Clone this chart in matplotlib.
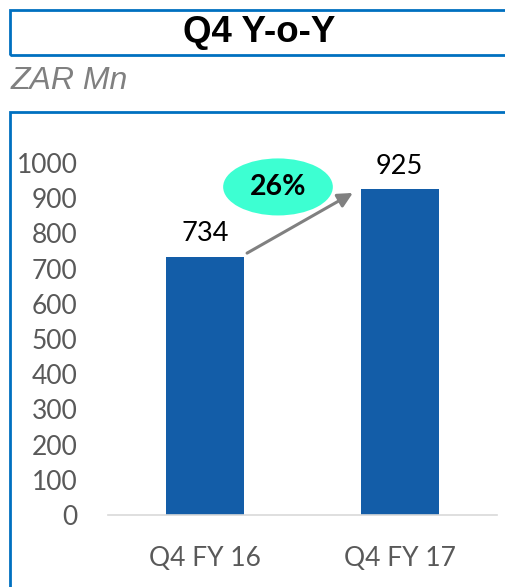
import matplotlib.pyplot as plt
from matplotlib.patches import Ellipse, Rectangle

# Datos
categorias = ['Q4 FY 16', 'Q4 FY 17']
valores = [734, 925]
crecimiento = '26%'
y_ticks = list(range(0, 1001, 100))

W, H = 506, 587
fig = plt.figure(figsize=(W / 100, H / 100), dpi=100)

# Caja del titulo y caja del grafico (coordenadas de figura)
azul = '#0070C0'
fig.patches.append(Rectangle((10 / W, 1 - 55 / H), 600 / W, 45 / H, transform=fig.transFigure,
                             fill=False, edgecolor=azul, linewidth=2))
fig.patches.append(Rectangle((10 / W, -0.1), 600 / W, 1 - 112 / H + 0.1, transform=fig.transFigure,
                             fill=False, edgecolor=azul, linewidth=2))

fig.text(259 / W, 1 - 33 / H, 'Q4 Y-o-Y', ha='center', va='center', fontsize=26.5,
         fontweight='bold', family='Liberation Sans', color='black')
fig.text(11 / W, 1 - 81 / H, 'ZAR Mn', ha='left', va='center', fontsize=23,
         style='italic', family='Liberation Sans', color='#808080')

# Ejes
ax = fig.add_axes([108 / W, 1 - 515 / H, (497 - 108) / W, (515 - 163) / H])
x = list(range(len(categorias)))
ax.bar(x, valores, width=0.4, color='#135DA8')
ax.set_xlim(-0.5, 1.5)
ax.set_ylim(0, 1000)
ax.set_yticks(y_ticks)
ax.set_xticks(x)
ax.set_xticklabels(categorias)
for s in ['top', 'right', 'left']:
    ax.spines[s].set_visible(False)
ax.spines['bottom'].set_color('#D9D9D9')
ax.spines['bottom'].set_linewidth(1.2)
ax.tick_params(axis='both', length=0, labelsize=19, labelcolor='#595959')
ax.tick_params(axis='y', pad=22)
ax.tick_params(axis='x', pad=22)
for lab in ax.get_xticklabels() + ax.get_yticklabels():
    lab.set_family('Lato')

# Etiquetas de valores
for xi, v in zip(x, valores):
    ax.text(xi, v + 30, str(v), ha='center', va='bottom', fontsize=19.5, family='Lato',
            color='black', clip_on=False)

# Flecha y elipse de crecimiento
ax.annotate('', xy=(0.759, 915), xytext=(0.215, 744),
            arrowprops=dict(arrowstyle='-|>', color='#808080', lw=2.2, mutation_scale=22,
                            shrinkA=0, shrinkB=0), annotation_clip=False)
ax.add_patch(Ellipse((0.374, 932), 0.564, 162, facecolor='#3DFFD2', edgecolor='none',
                     clip_on=False, zorder=5))
ax.text(0.374, 932, crecimiento, ha='center', va='center', fontsize=20.5, fontweight='bold',
        family='Lato', color='black', zorder=6, clip_on=False)

fig.savefig('out.png', dpi=100)
